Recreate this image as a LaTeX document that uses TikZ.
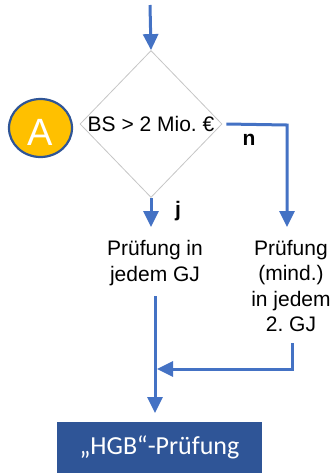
\documentclass[tikz,border=0pt]{standalone}
\usepackage{fontspec}
\setmainfont{Liberation Sans}
\newfontfamily\calfont{Carlito}
\usetikzlibrary{shapes.geometric,arrows.meta}
\definecolor{arrblue}{HTML}{4472C4}
\definecolor{darkblue}{HTML}{2F5597}
\definecolor{gold}{HTML}{FFC000}
\frenchspacing
\begin{document}
\begin{tikzpicture}[x=1pt,y=-1pt,
  arr/.style={draw=arrblue, line width=3pt, -{Triangle[length=16pt,width=15pt]}},
  lbl/.style={font=\fontsize{21}{25.5}\selectfont, align=center, inner sep=0pt},
  yn/.style={font=\fontsize{21}{25}\selectfont\bfseries, inner sep=0pt}]
\useasboundingbox (0,0) rectangle (335,475);
\node[diamond, draw=gray!45, line width=0.8pt, minimum width=142pt, minimum height=147pt, inner sep=0pt] (dia) at (151,124) {};
\node[lbl] (cond) at (151,124) {BS > 2 Mio. €};
\node[ellipse, fill=gold, draw=darkblue, line width=2.2pt, minimum width=63pt, minimum height=58pt, inner sep=0pt, text=white, font=\fontsize{38}{40}\selectfont, text height=34pt, text depth=0pt] (A) at (40.5,128) {A};
\node[yn] (n) at (249,140) {n};
\node[yn] (j) at (178,211.5) {j};
\node[lbl] (t1) at (155,263) {Prüfung in\\jedem GJ};
\node[lbl] (t2) at (291,286) {Prüfung\\(mind.)\\in jedem\\2. GJ};
\node[rectangle, fill=darkblue, minimum width=205pt, minimum height=51pt, inner sep=0pt, text=white, font=\calfont\fontsize{26}{30}\selectfont] (hgb) at (159.5,447.5) {„HGB“-Prüfung};
\coordinate (top) at (150,5);
\coordinate (jend) at (151,227);
\coordinate (ncorner) at (287,125);
\coordinate (nend) at (287,227);
\coordinate (l1s) at (155,296);
\coordinate (hgbin) at (155,413);
\coordinate (r1s) at (292,343);
\coordinate (rc) at (292,369);
\coordinate (rend) at (157,369);
\draw[arr] (top) -- (dia.north);
\draw[arr] (dia.south) -- (jend);
\draw[arr] ([xshift=4pt]dia.east) -- (ncorner) -- (nend);
\draw[arr] (l1s) -- (hgbin);
\draw[arr] (r1s) -- (rc) -- (rend);
\end{tikzpicture}
\end{document}
